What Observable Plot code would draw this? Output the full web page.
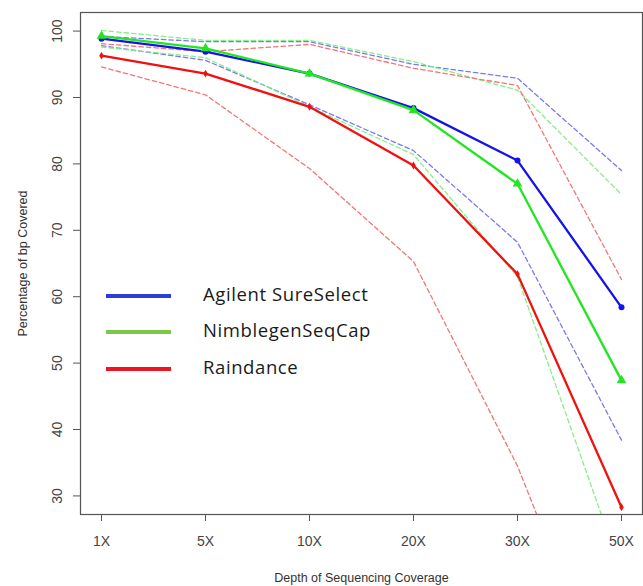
<!DOCTYPE html>
<html>
<head>
<meta charset="utf-8">
<script src="https://cdn.jsdelivr.net/npm/d3@7"></script>
<script src="https://cdn.jsdelivr.net/npm/@observablehq/plot@0.6"></script>
<style>
  html, body { margin: 0; padding: 0; background: #fff; }
  #wrap { position: relative; width: 643px; height: 586px; }
  #legend { position: absolute; left: 0; top: 0; font-family: "Open Sans", sans-serif; font-size: 18.5px; letter-spacing: 0.6px; color: #1a1a1a; }
  .li { position: absolute; white-space: nowrap; }
  .sw { position: absolute; width: 65px; height: 4px; }
</style>
</head>
<body>
<div id="wrap"></div>
<script>
const depths = ["1X", "5X", "10X", "20X", "30X", "50X"];
const agilent       = [98.85, 96.9, 93.6, 88.4, 80.5, 58.4];
const nimblegen     = [99.25, 97.4, 93.6, 88.1, 77.0, 47.4];
const raindance     = [96.3, 93.6, 88.6, 79.75, 63.4, 28.3];
const agilentUpper   = [99.2, 98.4, 98.4, 95.0, 92.9, 79.0];
const agilentLower   = [97.8, 95.6, 88.9, 82.0, 68.2, 38.4];
const nimblegenUpper = [100.1, 98.6, 98.6, 95.4, 91.1, 75.4];
const nimblegenLower = [97.6, 96.0, 88.6, 81.4, 63.0, 18.6];
const raindanceUpper = [98.1, 96.9, 98.0, 94.4, 91.8, 62.6];
const raindanceLower = [94.6, 90.4, 79.3, 65.3, 34.5, -5];
const yTicks = [30, 40, 50, 60, 70, 80, 90, 100];
const seriesNames = ["Agilent SureSelect", "NimblegenSeqCap", "Raindance"];

const solidColors = ["#1414e6", "#22e622", "#f01010"];
const dashColors = ["#7272f0", "#80ee80", "#ee7070"];
const legendColors = ["#2a3ed6", "#7cc94a", "#ec1520"];
const symbols = ["circle", "triangle", "diamond"];
const symRadius = [3.0, 3.6, 2.4];

const solids = [agilent, nimblegen, raindance];
const dashes = [[agilentUpper, agilentLower], [nimblegenUpper, nimblegenLower], [raindanceUpper, raindanceLower]];

const toRows = (arr) => depths.map((d, i) => ({depth: d, value: arr[i]}));

const marks = [];
dashes.forEach((pair, s) => {
  pair.forEach(arr => {
    marks.push(Plot.line(toRows(arr), {x: "depth", y: "value", stroke: dashColors[s], strokeWidth: 1.3, strokeDasharray: "4.5,3", strokeOpacity: 0.95, clip: true}));
  });
});
solids.forEach((arr, s) => {
  marks.push(Plot.line(toRows(arr), {x: "depth", y: "value", stroke: solidColors[s], strokeWidth: 2.3, clip: true}));
  marks.push(Plot.dot(toRows(arr), {x: "depth", y: "value", fill: solidColors[s], symbol: symbols[s], r: symRadius[s], clip: true}));
});

const chart = Plot.plot({
  width: 643,
  height: 586,
  marginLeft: 80,
  marginTop: 12,
  marginRight: 1,
  marginBottom: 72,
  style: {fontFamily: "'Liberation Sans', Arial, sans-serif", color: "#444", background: "#fff"},
  x: {type: "point", domain: depths, padding: 0.2, align: 0.5},
  y: {domain: [27.2, 102.8]},
  marks: [
    ...marks,
    Plot.frame({stroke: "#555", strokeWidth: 1.2}),
    Plot.axisX({tickSize: 7, tickPadding: 15, fontSize: 14, stroke: "#555", fill: "#444", label: null}),
    Plot.axisY({ticks: yTicks, tickSize: 7, tickFormat: () => "", stroke: "#555", label: null}),
    Plot.text(yTicks, {y: d => d, text: d => String(d), frameAnchor: "left", dx: -23, rotate: -90, textAnchor: "middle", lineAnchor: "middle", fontSize: 14, fill: "#444"}),
    Plot.text(["Percentage of bp Covered"], {frameAnchor: "left", dx: -58, rotate: -90, textAnchor: "middle", lineAnchor: "middle", fontSize: 12.5, fill: "#333"}),
    Plot.text(["Depth of Sequencing Coverage"], {frameAnchor: "bottom", dy: 63, textAnchor: "middle", lineAnchor: "middle", fontSize: 12.5, fill: "#333"})
  ]
});

const wrap = document.getElementById("wrap");
wrap.appendChild(chart);

const legend = document.createElement("div");
legend.id = "legend";
const lineYs = [296, 332, 369];
seriesNames.forEach((name, i) => {
  const sw = document.createElement("div");
  sw.className = "sw";
  sw.style.left = "106px";
  sw.style.top = (lineYs[i] - 2) + "px";
  sw.style.background = legendColors[i];
  legend.appendChild(sw);
  const t = document.createElement("div");
  t.className = "li";
  t.style.left = "203px";
  t.style.top = (lineYs[i] - 15) + "px";
  t.style.lineHeight = "26px";
  t.textContent = name;
  legend.appendChild(t);
});
wrap.appendChild(legend);
</script>
</body>
</html>
